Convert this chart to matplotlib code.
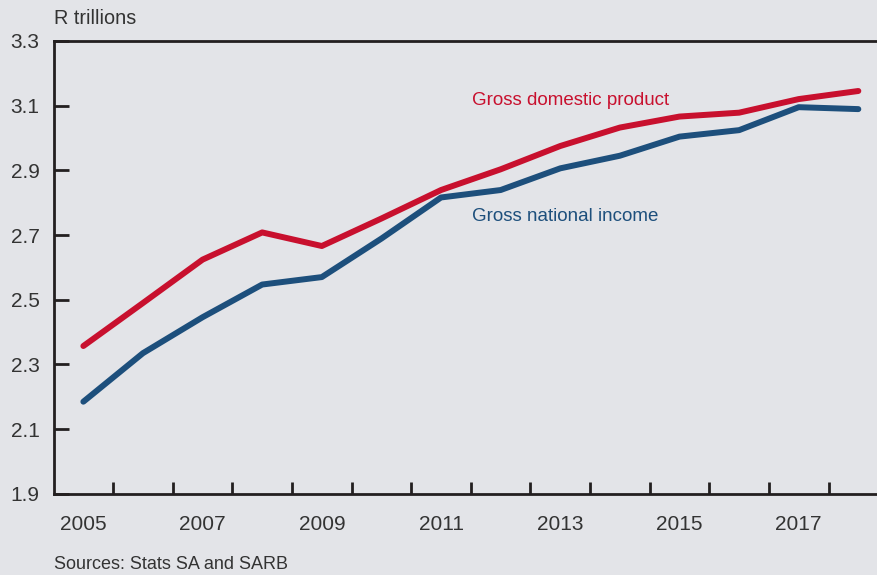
import matplotlib.pyplot as plt
from matplotlib.ticker import FixedLocator

years = list(range(2005, 2019))
gdp = [2.357, 2.49, 2.624, 2.708, 2.666, 2.751, 2.839, 2.903, 2.975, 3.032,
       3.066, 3.078, 3.120, 3.145]
gni = [2.185, 2.335, 2.446, 2.547, 2.570, 2.689, 2.816, 2.839, 2.906, 2.945,
       3.004, 3.024, 3.095, 3.089]
year_labels = [2005, 2007, 2009, 2011, 2013, 2015, 2017]
y_ticks = [1.9, 2.1, 2.3, 2.5, 2.7, 2.9, 3.1, 3.3]

bg = '#e3e4e8'
red = '#c8102e'
blue = '#1d4f7c'
txt = '#333333'

plt.rcParams['font.family'] = ['Liberation Sans', 'DejaVu Sans']

fig = plt.figure(figsize=(8.78, 5.75), dpi=100, facecolor=bg)
ax = fig.add_axes([0.061, 0.141, 0.939, 0.788])
ax.set_facecolor(bg)

ax.plot(years, gdp, color=red, lw=4.3, solid_capstyle='round', solid_joinstyle='round')
ax.plot(years, gni, color=blue, lw=4.3, solid_capstyle='round', solid_joinstyle='round')

ax.set_xlim(2004.5, 2018.33)
ax.set_ylim(1.9, 3.3)

ax.spines['right'].set_visible(False)
for s in ['left', 'bottom', 'top']:
    ax.spines[s].set_color('#231f20')
    ax.spines[s].set_linewidth(2)

ax.set_yticks(y_ticks)
ax.set_yticklabels([f'{v:.1f}' for v in y_ticks])
ax.tick_params(axis='y', direction='in', length=11, width=2, color='#231f20',
               labelsize=15, labelcolor=txt, pad=10)

ax.set_xticks(year_labels)
ax.set_xticklabels([str(y) for y in year_labels])
ax.xaxis.set_minor_locator(FixedLocator([y + 0.5 for y in range(2005, 2018)]))
ax.tick_params(axis='x', which='major', length=0, labelsize=15, labelcolor=txt, pad=15)
ax.tick_params(axis='x', which='minor', direction='in', length=9, width=2, color='#231f20')

ax.text(2011.52, 3.116, 'Gross domestic product', color=red, fontsize=13.5, va='center')
ax.text(2011.52, 2.758, 'Gross national income', color=blue, fontsize=13.5, va='center')

fig.text(0.061, 0.968, 'R trillions', color=txt, fontsize=14.3, va='center')
fig.text(0.061, 0.019, 'Sources: Stats SA and SARB', color=txt, fontsize=13, va='center')

fig.savefig('out.png', dpi=100, facecolor=bg)
